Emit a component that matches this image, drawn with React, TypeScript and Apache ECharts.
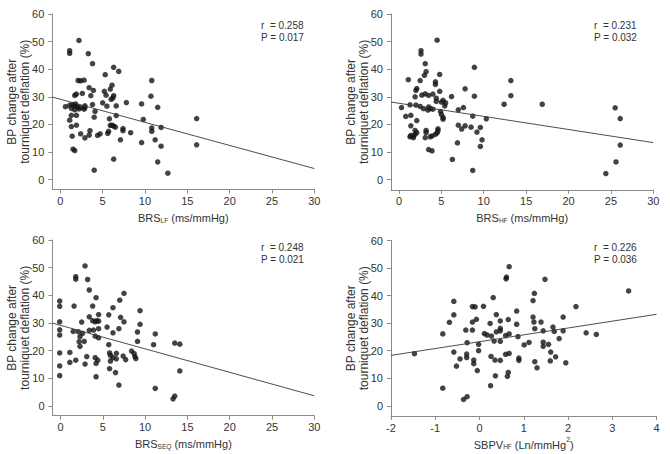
import React, { useEffect, useRef } from 'react';
import * as echarts from 'echarts';

// ---------- data ----------
const lfPoints = [
  [2.2, 50.4], [1.1, 46.7], [1.1, 45.7], [3.3, 45.6], [3.8, 42.0], [6.3, 40.7], [6.9, 39.2], [5.3, 38.0],
  [2.1, 35.9], [2.4, 35.8], [2.8, 36.0], [10.8, 35.9], [6.1, 34.2], [3.4, 33.3], [5.9, 32.8], [3.9, 32.3],
  [5.2, 32.0], [2.6, 31.2], [1.7, 30.5], [1.9, 31.0], [3.6, 30.4], [5.4, 30.6], [6.2, 29.6], [6.3, 30.4],
  [6.0, 29.1], [10.7, 30.2], [7.8, 27.9], [5.0, 27.8], [9.6, 27.4], [3.8, 27.2], [5.5, 26.6], [6.6, 26.7],
  [11.5, 26.2], [0.6, 26.4], [1.1, 26.9], [1.4, 27.2], [1.6, 26.9], [1.8, 27.4], [1.9, 26.6], [2.0, 26.3],
  [2.2, 25.6], [2.4, 26.1], [2.9, 26.7], [2.9, 26.1], [2.8, 25.5], [1.3, 25.8], [1.7, 25.3], [4.1, 24.7],
  [1.9, 23.3], [1.3, 23.3], [4.0, 22.6], [6.6, 23.2], [9.8, 21.8], [5.8, 22.0], [1.1, 21.5], [16.1, 22.1],
  [5.9, 19.6], [6.1, 19.7], [6.3, 19.4], [6.5, 19.0], [1.3, 19.2], [1.9, 19.7], [7.4, 18.5], [7.4, 17.7],
  [8.3, 17.0], [10.8, 18.7], [10.8, 17.5], [11.9, 18.9], [5.7, 17.5], [5.6, 16.7], [3.5, 17.7], [2.4, 16.6],
  [4.7, 16.6], [4.4, 16.0], [3.4, 16.1], [2.9, 15.1], [1.4, 15.7], [7.1, 14.4], [11.2, 14.4], [9.6, 13.4],
  [11.9, 12.1], [16.1, 12.6], [1.5, 11.0], [1.7, 10.5], [6.3, 7.4], [11.5, 6.4], [4.0, 3.4], [12.7, 2.3],
];

const hfPoints = [
  [4.5, 50.5], [2.6, 46.7], [2.6, 45.5], [3.1, 42.0], [3.2, 39.1], [3.0, 37.8], [4.8, 38.1], [2.5, 35.9],
  [1.1, 36.2], [4.3, 35.4], [4.3, 34.5], [2.1, 33.0], [2.0, 32.3], [7.8, 32.9], [4.8, 32.0], [1.9, 30.0],
  [2.7, 30.6], [3.1, 31.1], [3.5, 30.5], [4.0, 31.0], [6.2, 30.1], [4.4, 29.5], [4.4, 28.3], [5.2, 28.7],
  [5.5, 27.8], [5.4, 26.7], [5.0, 28.1], [0.3, 26.1], [1.3, 27.1], [2.0, 27.0], [2.5, 26.5], [2.9, 25.7],
  [3.5, 26.3], [3.7, 25.7], [4.0, 25.5], [3.4, 25.2], [4.9, 24.7], [5.0, 23.6], [5.2, 22.5], [5.2, 21.9],
  [7.6, 26.1], [7.0, 25.3], [8.7, 23.0], [10.3, 22.0], [0.8, 22.9], [1.4, 23.3], [2.1, 21.4], [7.0, 19.7],
  [7.8, 19.5], [7.4, 18.3], [8.5, 19.0], [9.6, 18.9], [9.2, 17.2], [1.4, 19.5], [4.6, 18.4], [4.6, 17.7],
  [4.5, 16.9], [4.3, 16.4], [3.9, 15.8], [3.7, 15.5], [3.2, 17.8], [3.2, 17.0], [3.1, 15.2], [1.9, 17.8],
  [2.1, 17.0], [1.9, 16.4], [1.7, 15.8], [1.7, 15.2], [1.3, 15.5], [1.4, 16.0], [9.8, 14.4], [6.9, 13.3],
  [9.6, 12.0], [3.5, 10.9], [3.9, 10.4], [6.3, 7.3], [8.7, 3.3], [8.9, 40.7], [8.9, 30.2], [13.2, 35.9],
  [13.2, 30.4], [12.4, 27.3], [16.9, 27.3], [25.5, 26.0], [26.1, 22.1], [26.1, 12.5], [25.6, 6.4], [24.4, 2.2],
];

const seqPoints = [
  [2.9, 50.6], [1.8, 46.7], [1.8, 45.8], [3.2, 45.7], [3.4, 41.9], [7.5, 40.7], [7.0, 38.2], [4.2, 39.1],
  [-0.1, 37.9], [-0.1, 36.0], [1.6, 36.1], [6.2, 35.5], [3.8, 36.1], [9.4, 34.4], [5.7, 32.9], [3.4, 32.2],
  [4.5, 33.0], [7.1, 32.0], [3.8, 30.8], [4.1, 30.4], [4.3, 30.8], [4.5, 30.6], [2.5, 30.3], [-0.1, 30.4],
  [7.5, 30.4], [9.4, 29.5], [5.5, 28.5], [6.9, 27.9], [4.5, 27.9], [3.4, 27.3], [3.9, 27.4], [-0.1, 27.5],
  [1.5, 26.9], [2.1, 26.8], [2.6, 26.2], [-0.1, 25.6], [6.2, 26.4], [9.1, 26.7], [4.1, 25.2], [4.5, 24.6],
  [2.3, 25.0], [2.2, 23.2], [2.8, 23.3], [9.1, 23.3], [2.3, 21.5], [5.7, 22.1], [11.0, 22.1], [11.2, 26.0],
  [13.5, 22.7], [14.1, 22.3], [-0.1, 19.1], [1.1, 19.3], [5.8, 19.1], [5.9, 18.2], [6.2, 17.4], [6.6, 19.0],
  [6.6, 17.0], [8.4, 19.8], [8.7, 18.9], [8.8, 17.8], [8.9, 17.1], [7.4, 18.0], [7.7, 16.7], [5.9, 16.2],
  [5.8, 13.4], [3.1, 17.8], [4.1, 17.4], [4.4, 16.5], [4.2, 15.3], [1.8, 16.5], [1.1, 15.7], [2.9, 15.1],
  [-0.1, 14.4], [6.5, 12.0], [14.1, 12.6], [-0.1, 10.9], [4.2, 10.5], [6.9, 7.5], [11.2, 6.3], [13.3, 2.5],
  [13.5, 3.5],
];

const sbpvPoints = [
  [-1.47, 18.9], [-0.83, 26.1], [-0.83, 6.4], [-0.68, 30.3], [-0.58, 37.9], [-0.58, 33.0], [-0.58, 19.5],
  [-0.52, 14.4], [-0.44, 17.0], [-0.36, 2.3], [-0.28, 3.3], [-0.31, 27.5], [-0.28, 22.9], [-0.29, 18.8],
  [-0.29, 17.5], [-0.16, 27.5], [-0.16, 36.0], [-0.1, 35.9], [-0.16, 30.4], [-0.07, 31.4], [-0.13, 16.6],
  [-0.13, 15.3], [-0.05, 12.8], [-0.02, 20.0], [-0.02, 22.3], [0.09, 36.1], [0.11, 26.2], [0.17, 25.7],
  [0.24, 29.9], [0.25, 7.3], [0.26, 17.9], [0.27, 25.3], [0.31, 39.3], [0.33, 23.5], [0.35, 16.6],
  [0.36, 10.9], [0.38, 33.1], [0.38, 26.8], [0.47, 30.8], [0.47, 28.1], [0.47, 27.2], [0.47, 23.4],
  [0.47, 16.5], [0.59, 25.5], [0.59, 18.7], [0.6, 46.1], [0.61, 46.7], [0.67, 50.5], [0.65, 31.3],
  [0.67, 26.1], [0.67, 19.0], [0.65, 12.1], [0.63, 10.7], [0.84, 34.4], [0.84, 29.6], [0.87, 25.1],
  [0.89, 17.3], [0.89, 16.5], [1.01, 22.1], [1.48, 45.9], [1.24, 40.8], [1.21, 38.2], [3.37, 41.7],
  [2.18, 36.0], [1.21, 32.2], [1.23, 30.4], [1.39, 30.4], [1.89, 32.2], [1.25, 28.0], [1.66, 28.6],
  [1.69, 27.0], [1.44, 27.2], [1.89, 27.2], [1.8, 24.4], [2.41, 26.5], [2.64, 25.9], [1.12, 23.0],
  [1.44, 23.1], [1.44, 21.6], [1.56, 22.3], [1.61, 19.5], [1.72, 17.8], [1.25, 16.0], [1.3, 13.8],
  [1.6, 16.3], [1.95, 15.6],
];

// regression line end points
const fitLF = [[-0.95, 29.9], [30, 4.0]];
const fitHF = [[-0.94, 28.1], [30, 13.4]];
const fitSEQ = [[-0.95, 29.9], [30, 3.6]];
const fitSBPV = [[-2, 18.3], [4, 33.2]];

// statistics
const statsLF = ['r  = 0.258', 'P = 0.017'];
const statsHF = ['r  = 0.231', 'P = 0.032'];
const statsSEQ = ['r  = 0.248', 'P = 0.021'];
const statsSBPV = ['r  = 0.226', 'P = 0.036'];

// ticks
const xTicksBRS = [0, 5, 10, 15, 20, 25, 30];
const xTicksSBPV = [-2, -1, 0, 1, 2, 3, 4];
const yTicks = [0, 10, 20, 30, 40, 50, 60];

const yName = 'BP change after\ntourniquet deflation (%)';

const FONT = "'Liberation Sans', Arial, Helvetica, sans-serif";
const TEXT = '#333';
const AXIS = '#8a8a8a';

export default function App() {
  const ref = useRef<HTMLDivElement>(null);

  useEffect(() => {
    if (!ref.current) return;
    const chart = echarts.init(ref.current, null, { renderer: 'svg' });

    const panels = [
      {
        name: '{a|BRS}{b|LF}{a| (ms/mmHg)}', pts: lfPoints, fit: fitLF, stats: statsLF,
        xMin: -0.95, xMax: 30, xTicks: xTicksBRS, yMin: -3.6,
        box: { left: 52.3, top: 14, width: 262, height: 175.5 }, stat: [261, 19],
      },
      {
        name: '{a|BRS}{b|HF}{a| (ms/mmHg)}', pts: hfPoints, fit: fitHF, stats: statsHF,
        xMin: -0.94, xMax: 30, xTicks: xTicksBRS, yMin: -3.7,
        box: { left: 391, top: 14, width: 262.3, height: 175.8 }, stat: [594, 19],
      },
      {
        name: '{a|BRS}{b|SEQ}{a| (ms/mmHg)}', pts: seqPoints, fit: fitSEQ, stats: statsSEQ,
        xMin: -0.95, xMax: 30, xTicks: xTicksBRS, yMin: -3.6,
        box: { left: 52.5, top: 240, width: 261.8, height: 175.7 }, stat: [261, 241.5],
      },
      {
        name: '{a|SBPV}{b|HF}{a| (Ln/mmHg}{c|2}{a|)}', pts: sbpvPoints, fit: fitSBPV, stats: statsSBPV,
        xMin: -2, xMax: 4, xTicks: xTicksSBPV, yMin: -3.7,
        box: { left: 391, top: 240.5, width: 265.5, height: 175.5 }, stat: [594, 241.5],
      },
    ];

    const axisLine = { show: true, onZero: false, lineStyle: { color: AXIS, width: 1 } };
    const tickBase = { show: true, length: 4, lineStyle: { color: AXIS, width: 1 } };

    const option: any = {
      animation: false,
      backgroundColor: '#ffffff',
      grid: panels.map((p) => ({ ...p.box, containLabel: false, outerBoundsMode: 'none' })),
      xAxis: panels.map((p, i) => ({
        type: 'value',
        gridIndex: i,
        min: p.xMin,
        max: p.xMax,
        axisLine,
        splitLine: { show: false },
        axisTick: { ...tickBase, customValues: p.xTicks },
        axisLabel: {
          customValues: p.xTicks,
          color: TEXT,
          fontSize: 11,
          fontFamily: FONT,
          margin: 6,
        },
        name: p.name,
        nameLocation: 'middle',
        nameGap: 20,
        nameMoveOverlap: false,
        nameTextStyle: {
          rich: {
            a: { fontSize: 11, fontFamily: FONT, color: TEXT, lineHeight: 14, verticalAlign: 'bottom' },
            b: { fontSize: 6.5, fontFamily: FONT, color: TEXT, lineHeight: 8, verticalAlign: 'bottom' },
            c: { fontSize: 7, fontFamily: FONT, color: TEXT, lineHeight: 8, verticalAlign: 'top' },
          },
        },
      })),
      yAxis: panels.map((p, i) => ({
        type: 'value',
        gridIndex: i,
        min: p.yMin,
        max: 60,
        axisLine,
        splitLine: { show: false },
        axisTick: { ...tickBase, customValues: yTicks },
        axisLabel: {
          customValues: yTicks,
          color: TEXT,
          fontSize: 11,
          fontFamily: FONT,
          margin: 8,
        },
        name: yName,
        nameLocation: 'middle',
        nameGap: 21,
        nameMoveOverlap: false,
        nameTextStyle: { color: TEXT, fontSize: 12, fontFamily: FONT, lineHeight: 13 },
      })),
      series: panels.flatMap((p, i) => [
        {
          type: 'scatter',
          xAxisIndex: i,
          yAxisIndex: i,
          data: p.pts,
          symbol: 'circle',
          symbolSize: 5.5,
          itemStyle: { color: '#141414' },
          silent: true,
        },
        {
          type: 'line',
          xAxisIndex: i,
          yAxisIndex: i,
          data: p.fit,
          symbol: 'none',
          lineStyle: { color: '#3a3a3a', width: 0.9 },
          silent: true,
        },
      ]),
      graphic: panels.map((p) => ({
        type: 'text',
        x: p.stat[0],
        y: p.stat[1],
        silent: true,
        style: {
          text: p.stats.join('\n'),
          fontSize: 10,
          fontFamily: FONT,
          fill: TEXT,
          lineHeight: 12,
          verticalAlign: 'top',
          align: 'left',
        },
      })),
    };

    chart.setOption(option);
    return () => chart.dispose();
  }, []);

  return (
    <div
      ref={ref}
      style={{ position: 'absolute', left: 0, top: 0, width: 670, height: 454, background: '#fff' }}
    />
  );
}
